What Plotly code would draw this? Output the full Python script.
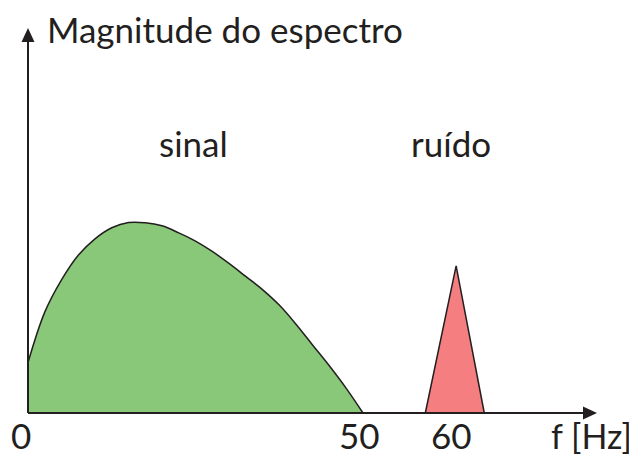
import plotly.graph_objects as go

# ---- data ----
sinal_f = [0.0, 2.5, 5.0, 7.5, 10.0, 12.5, 15.0, 17.5, 20.0, 22.5, 25.0, 27.5,
           30.0, 32.5, 35.0, 37.5, 40.0, 42.5, 45.0, 47.5, 50.0]
sinal_mag = [0.264, 0.528, 0.697, 0.826, 0.912, 0.970, 0.997, 0.996, 0.980, 0.943,
             0.900, 0.846, 0.783, 0.715, 0.646, 0.565, 0.465, 0.355, 0.246, 0.129, 0.0]
ruido_f = [59.3, 63.9, 68.1]
ruido_mag = [0.0, 0.77, 0.0]
tick_labels = ["0", "50", "60", "f [Hz]"]
y_title = "Magnitude do espectro"
region_labels = ["sinal", "ruído"]

# page body has an 8px margin: figure sits at (8,8) in the 637x457 window
OFF = 8
W, H = 637 - OFF, 457 - OFF
X0, XS = 28.0, 6.7      # window pixel of f=0, px per Hz
Y0, YS = 413.0, 191.0   # window pixel of mag=0, px per unit


def fx(px):
    return (px - X0) / XS


def fy(py):
    return (Y0 - py) / YS


def px_paper(px):
    return (px - OFF) / W


def py_paper(py):
    return 1 - (py - OFF) / H


FONT = "Lato"
TXT = "#231f20"
fig = go.Figure()

fig.add_trace(go.Scatter(
    x=sinal_f, y=sinal_mag, mode="lines",
    line=dict(color="#231f20", width=1.5, shape="spline", smoothing=1.0),
    fill="tozeroy", fillcolor="#88c878", hoverinfo="skip", showlegend=False))
fig.add_trace(go.Scatter(
    x=ruido_f, y=ruido_mag, mode="lines",
    line=dict(color="#231f20", width=1.5),
    fill="toself", fillcolor="#f47e80", hoverinfo="skip", showlegend=False))

shapes = []
shapes.append(dict(type="line", xref="x", yref="y", x0=0, y0=0, x1=fx(588), y1=0,
                   line=dict(color=TXT, width=2)))
shapes.append(dict(type="line", xref="x", yref="y", x0=0, y0=0, x1=0, y1=fy(36),
                   line=dict(color=TXT, width=2)))


def tri(pts):
    p = "M " + " L ".join(f"{px_paper(a):.5f},{py_paper(b):.5f}" for a, b in pts) + " Z"
    return dict(type="path", xref="paper", yref="paper", path=p,
                fillcolor=TXT, line=dict(color=TXT, width=0))


shapes.append(tri([(583, 406.5), (597, 413), (583, 419.5)]))
shapes.append(tri([(21.5, 42), (28, 28), (34.5, 42)]))

ann = []


def txt(s, px, py, anchor="center", size=35):
    ann.append(dict(text=s, x=px_paper(px), y=py_paper(py), xref="paper", yref="paper",
                    xanchor=anchor, yanchor="middle", showarrow=False,
                    font=dict(family=FONT, size=size, color=TXT)))


txt(y_title, 45, 29, anchor="left")
txt(region_labels[0], 193, 143)
txt(region_labels[1], 451, 143)
txt(tick_labels[0], 21, 435)
txt(tick_labels[1], 359, 435)
txt(tick_labels[2], 451, 435)
txt(tick_labels[3], 591, 435, size=34)

fig.update_layout(
    width=W, height=H, margin=dict(l=0, r=0, t=0, b=0),
    paper_bgcolor="white", plot_bgcolor="white",
    xaxis=dict(range=[fx(OFF), fx(637)], visible=False, fixedrange=True),
    yaxis=dict(range=[fy(457), fy(OFF)], visible=False, fixedrange=True),
    shapes=shapes, annotations=ann, showlegend=False)

fig.write_html("out.html")
